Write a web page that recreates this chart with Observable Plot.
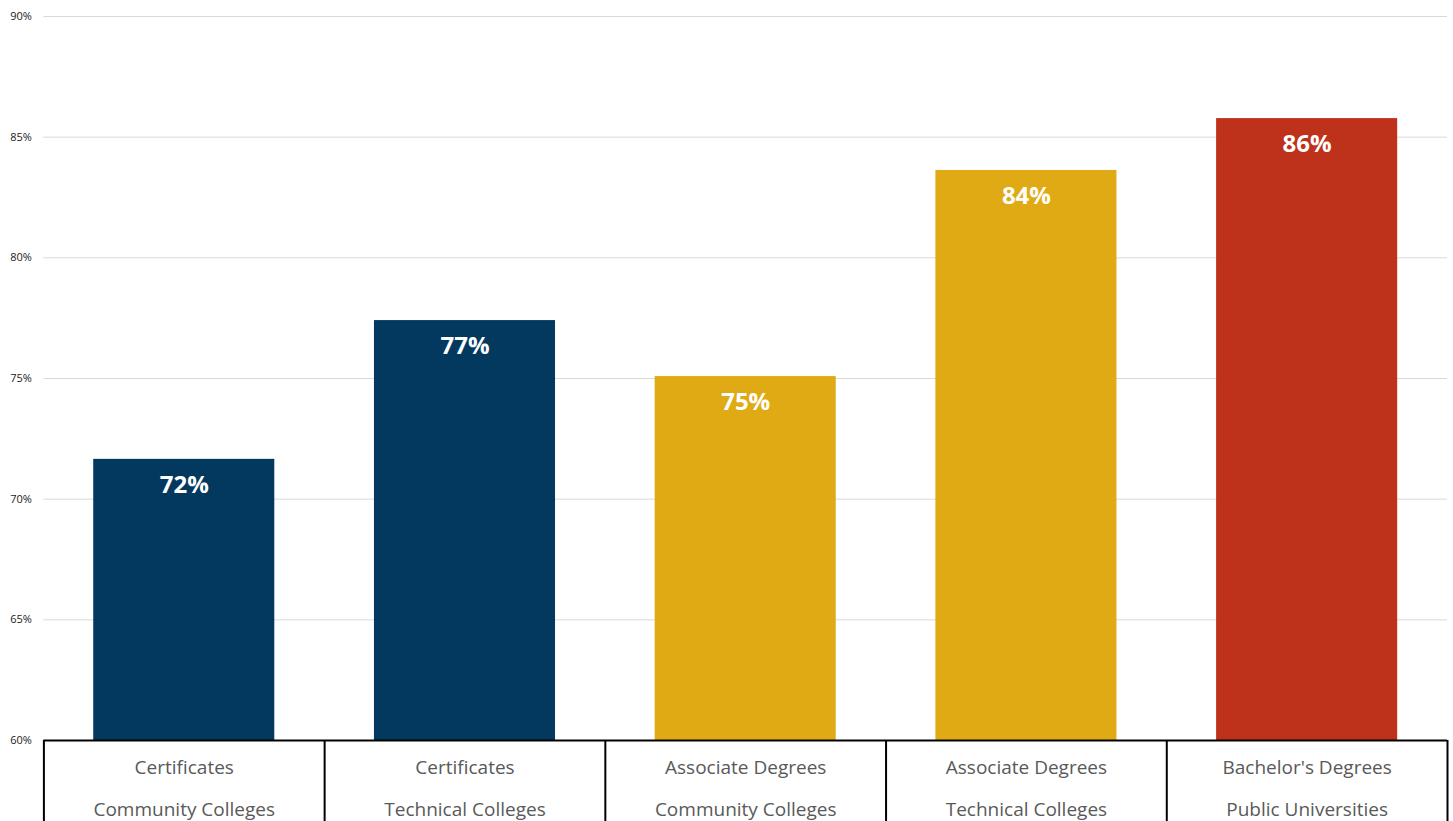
<!DOCTYPE html>
<html>
<head>
<meta charset="utf-8">
<script src="https://cdn.jsdelivr.net/npm/d3@7"></script>
<script src="https://cdn.jsdelivr.net/npm/@observablehq/plot@0.6"></script>
<style>
  html, body { margin: 0; padding: 0; background: #fff; }
  #chart svg { display: block; }
</style>
</head>
<body>
<div id="chart"></div>
<script>
// Data
const credentials = ["Certificates", "Certificates", "Associate Degrees", "Associate Degrees", "Bachelor's Degrees"];
const institutions = ["Community Colleges", "Technical Colleges", "Community Colleges", "Technical Colleges", "Public Universities"];
const rates = [71.65, 77.4, 75.08, 83.62, 85.77];
const barColors = ["#03395F", "#03395F", "#E0AA14", "#E0AA14", "#BE311B"];
const yTicks = [60, 65, 70, 75, 80, 85, 90];

const data = credentials.map((c, i) => ({
  key: c + " | " + institutions[i],
  line1: c,
  line2: institutions[i],
  value: rates[i],
  color: barColors[i],
  label: Math.round(rates[i]) + "%"
}));

const W = 1453, H = 821;
const mL = 43.4, mR = 6, mT = 16, mB = 81;
const yMin = 60, yMax = 90;
const step = (W - mL - mR) / data.length;
const pxPerUnit = (H - mT - mB) / (yMax - yMin);
const yFloor = yMin - mB / pxPerUnit;

const chart = Plot.plot({
  width: W,
  height: H,
  marginLeft: mL,
  marginRight: mR,
  marginTop: mT,
  marginBottom: mB,
  style: { fontFamily: "'Open Sans', sans-serif", background: "#fff" },
  x: { domain: data.map(d => d.key), paddingInner: 0.355, paddingOuter: 0.1775, round: false, axis: null, label: null },
  y: { domain: [yMin, yMax], axis: null, label: null },
  marks: [
    Plot.gridY(yTicks, { stroke: "#d9d9d9", strokeOpacity: 1, strokeWidth: 1 }),
    Plot.axisY(yTicks, {
      tickSize: 0, tickPadding: 12, fontSize: 11, fill: "#222", label: null,
      tickFormat: d => d + "%"
    }),
    Plot.barY(data, { x: "key", y1: yMin, y2: "value", fill: "color" }),
    Plot.text(data, {
      x: "key", y: "value", text: "label", dy: 26,
      fill: "#fff", fontSize: 24, fontWeight: "bold"
    }),
    Plot.ruleY([yMin], { stroke: "#000", strokeWidth: 2 }),
    Plot.ruleX(data, { x: "key", y1: yMin, y2: yFloor, dx: -step / 2, stroke: "#000", strokeWidth: 2 }),
    Plot.ruleX(data.slice(-1), { x: "key", y1: yMin, y2: yFloor, dx: step / 2, stroke: "#000", strokeWidth: 2 }),
    Plot.text(data, {
      x: "key", frameAnchor: "bottom", text: "line1", dy: 33,
      fill: "#595959", fontSize: 19
    }),
    Plot.text(data, {
      x: "key", frameAnchor: "bottom", text: "line2", dy: 75,
      fill: "#595959", fontSize: 19
    })
  ]
});
document.getElementById("chart").append(chart);
</script>
</body>
</html>
